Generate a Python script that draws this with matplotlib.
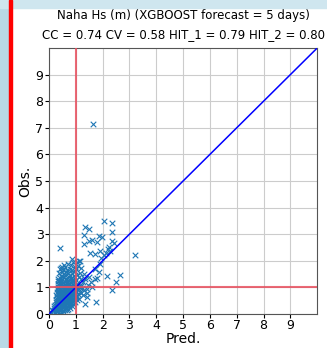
import numpy as np
import matplotlib.pyplot as plt
from matplotlib.patches import Rectangle

# =========================================================
# Data
# =========================================================
TITLE_1 = "Naha Hs (m) (XGBOOST forecast = 5 days)"
TITLE_2 = "CC = 0.74 CV = 0.58 HIT_1 = 0.79 HIT_2 = 0.80"

TICKS = [0, 1, 2, 3, 4, 5, 6, 7, 8, 9]

# scattered points outside the dense cloud
outlier_pred = [1.65, 0.41, 2.04, 2.35, 1.35, 1.48, 2.33, 3.22, 1.29, 1.85, 1.98,
                1.48, 1.60, 1.79, 2.35, 2.41, 1.29, 1.54, 1.73, 1.91, 2.19, 2.29,
                2.66, 2.48, 2.33, 2.16, 1.79, 1.76, 1.35, 1.41, 1.41, 1.73, 1.85,
                1.91, 1.16, 1.04, 0.85, 0.41, 0.48, 0.35, 2.05, 2.25, 1.95, 2.12]
outlier_obs = [7.15, 2.46, 3.48, 3.41, 3.25, 3.21, 3.09, 2.22, 2.96, 2.94, 2.91,
               2.75, 2.78, 2.69, 2.75, 2.65, 2.63, 2.28, 2.25, 2.38, 2.44, 2.38,
               1.48, 1.19, 0.88, 1.44, 1.35, 0.44, 0.38, 0.63, 0.94, 1.69, 1.56,
               1.88, 2.00, 1.94, 2.06, 1.69, 1.75, 1.25, 2.20, 2.50, 2.10, 2.30]

# dense cloud near the origin
cloud = [
    (0.08, 0.06), (0.15, 0.10), (0.22, 0.08), (0.30, 0.12), (0.38, 0.07), (0.45, 0.14),
    (0.52, 0.10), (0.60, 0.13), (0.20, 0.15), (0.33, 0.18),
    (0.18, 0.22), (0.25, 0.20), (0.32, 0.24), (0.40, 0.21), (0.47, 0.25), (0.55, 0.20),
    (0.62, 0.23), (0.70, 0.19), (0.78, 0.24), (0.36, 0.28), (0.44, 0.30), (0.51, 0.29),
    (0.58, 0.32), (0.66, 0.28), (0.85, 0.30),
    (0.22, 0.35), (0.29, 0.38), (0.35, 0.42), (0.41, 0.36), (0.48, 0.40), (0.54, 0.44),
    (0.60, 0.37), (0.67, 0.42), (0.73, 0.35), (0.80, 0.41), (0.90, 0.38), (0.98, 0.44),
    (0.27, 0.46), (0.39, 0.48), (0.45, 0.45), (0.63, 0.47), (0.71, 0.49), (0.86, 0.47),
    (0.25, 0.52), (0.31, 0.55), (0.37, 0.58), (0.43, 0.53), (0.50, 0.57), (0.56, 0.51),
    (0.62, 0.56), (0.68, 0.60), (0.75, 0.53), (0.82, 0.58), (0.88, 0.55), (0.95, 0.60),
    (1.05, 0.52), (1.12, 0.57), (0.34, 0.62), (0.46, 0.64), (0.53, 0.61), (0.59, 0.66),
    (0.72, 0.63), (0.79, 0.67), (0.92, 0.65),
    (0.27, 0.72), (0.33, 0.75), (0.40, 0.70), (0.45, 0.78), (0.52, 0.73), (0.58, 0.76),
    (0.64, 0.71), (0.70, 0.79), (0.77, 0.74), (0.84, 0.77), (0.90, 0.72), (0.97, 0.80),
    (1.08, 0.75), (1.18, 0.78), (0.38, 0.82), (0.49, 0.84), (0.56, 0.81), (0.63, 0.86),
    (0.74, 0.83), (0.81, 0.88), (1.00, 0.85),
    (0.30, 0.92), (0.36, 0.95), (0.42, 0.90), (0.48, 0.97), (0.54, 0.93), (0.61, 0.99),
    (0.67, 0.94), (0.73, 0.91), (0.79, 0.98), (0.86, 0.95), (0.93, 0.92), (1.02, 0.97),
    (1.10, 0.93), (1.22, 0.96), (1.30, 0.90), (0.44, 1.02), (0.57, 1.05), (0.70, 1.03),
    (0.83, 1.06), (0.96, 1.04),
    (0.32, 1.12), (0.39, 1.15), (0.46, 1.10), (0.52, 1.18), (0.59, 1.13), (0.66, 1.20),
    (0.72, 1.11), (0.80, 1.16), (0.88, 1.12), (0.95, 1.19), (1.05, 1.14), (1.14, 1.10),
    (0.43, 1.24), (0.62, 1.26), (0.76, 1.23), (1.00, 1.28),
    (0.35, 1.32), (0.42, 1.36), (0.50, 1.30), (0.57, 1.38), (0.65, 1.33), (0.73, 1.40),
    (0.82, 1.35), (0.90, 1.31), (1.10, 1.37), (1.20, 1.33),
    (0.38, 1.52), (0.47, 1.56), (0.55, 1.50), (0.63, 1.58), (0.71, 1.53), (0.86, 1.55),
    (0.98, 1.60), (1.15, 1.52),
    (0.45, 1.72), (0.60, 1.75), (0.78, 1.70), (0.95, 1.78), (1.08, 1.82), (0.70, 1.88),
    (1.20, 1.72), (0.88, 1.95), (1.12, 1.98),
    (1.25, 1.20), (1.35, 1.30), (1.45, 1.10), (1.30, 1.50), (1.50, 1.40), (1.55, 1.20),
    (1.60, 1.00), (1.40, 0.80), (1.70, 1.30), (1.25, 0.70), (1.20, 1.05),
    (0.55, 0.35), (0.65, 0.52), (0.75, 0.68), (0.85, 0.82), (0.50, 0.46), (0.60, 0.62),
    (0.70, 0.45), (0.80, 0.60), (0.45, 0.68), (0.55, 0.88), (0.65, 0.78), (0.95, 0.75),
    # extra fill for the solid core
    (0.12, 0.14), (0.26, 0.12), (0.42, 0.16), (0.48, 0.05), (0.66, 0.16), (0.74, 0.28),
    (0.28, 0.28), (0.38, 0.34), (0.52, 0.36), (0.64, 0.34), (0.77, 0.38), (0.92, 0.50),
    (0.33, 0.50), (0.47, 0.50), (0.58, 0.46), (0.69, 0.55), (0.78, 0.47), (1.00, 0.64),
    (0.29, 0.63), (0.40, 0.62), (0.51, 0.68), (0.66, 0.67), (0.86, 0.65), (1.06, 0.68),
    (0.31, 0.83), (0.44, 0.86), (0.60, 0.82), (0.69, 0.88), (0.79, 0.81), (0.92, 0.86),
    (1.14, 0.84), (0.35, 1.03), (0.50, 1.04), (0.64, 1.08), (0.77, 1.02), (0.90, 1.01),
    (1.06, 1.04), (1.17, 1.00), (0.37, 1.22), (0.55, 1.23), (0.69, 1.27), (0.84, 1.25),
    (0.92, 1.41), (0.46, 1.44), (0.60, 1.46), (0.77, 1.47), (1.04, 1.45), (0.52, 1.64),
    (0.68, 1.66), (0.84, 1.64), (1.02, 1.68), (0.56, 1.85), (0.82, 1.83), (0.18, 0.30),
]
cloud_pred = [p for p, o in cloud]
cloud_obs = [o for p, o in cloud]

pred = np.array(cloud_pred + outlier_pred)
obs = np.array(cloud_obs + outlier_obs)

# =========================================================
# Figure
# =========================================================
fig = plt.figure(figsize=(3.27, 3.48), dpi=100)

# page decoration around the chart
fig.patches.append(Rectangle((0, 0), 8 / 327, 1, transform=fig.transFigure,
                             color="#b9d9e6", zorder=0))
fig.patches.append(Rectangle((0, 1 - 8 / 348), 1, 8 / 348, transform=fig.transFigure,
                             color="#cfe6ef", zorder=0))
fig.patches.append(Rectangle((9 / 327, 0), 3 / 327, 1, transform=fig.transFigure,
                             color="red", zorder=1))

ax = fig.add_axes([0.150, 0.098, 0.820, 0.764])

ax.scatter(pred, obs, marker="x", s=16, linewidths=0.8, color="#1f77b4", zorder=2)
ax.plot([0, 10], [0, 10], color="blue", linewidth=1.1, zorder=3)
ax.axvline(1, color="#e8505f", alpha=0.85, linewidth=1.5, zorder=3)
ax.axhline(1, color="#e8505f", alpha=0.85, linewidth=1.5, zorder=3)

ax.set_xlim(0, 10)
ax.set_ylim(0, 10)
ax.set_xticks(TICKS)
ax.set_yticks(TICKS)
ax.tick_params(labelsize=9, length=3, pad=1)
ax.grid(color="#cccccc", linewidth=0.8)
ax.set_axisbelow(True)

ax.set_xlabel("Pred.", fontsize=10, labelpad=0)
ax.set_ylabel("Obs.", fontsize=10, labelpad=2)
ax.set_title(TITLE_1 + "\n" + TITLE_2, fontsize=8.5, pad=7, linespacing=1.6)

for s in ax.spines.values():
    s.set_color("#555555")

fig.savefig("out.png", dpi=100)
